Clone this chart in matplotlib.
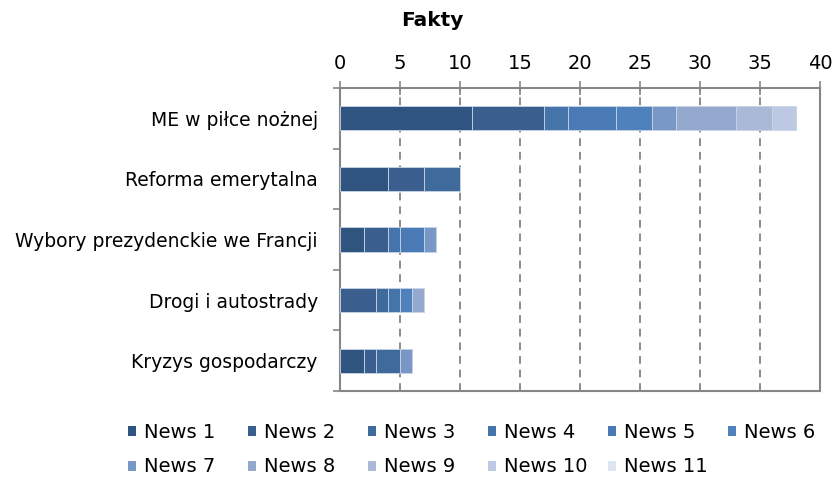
import matplotlib
matplotlib.use("Agg")
import matplotlib.pyplot as plt
import numpy as np
from matplotlib.ticker import MultipleLocator, FixedLocator

categories = ["ME w piłce nożnej", "Reforma emerytalna",
              "Wybory prezydenckie we Francji", "Drogi i autostrady",
              "Kryzys gospodarczy"]
series_names = ["News 1", "News 2", "News 3", "News 4", "News 5", "News 6",
                "News 7", "News 8", "News 9", "News 10", "News 11"]
# values per series, in category order
news1 = [11, 4, 2, 0, 2]
news2 = [6, 3, 2, 3, 1]
news3 = [0, 3, 0, 1, 2]
news4 = [2, 0, 1, 1, 0]
news5 = [4, 0, 2, 0, 0]
news6 = [3, 0, 0, 1, 0]
news7 = [2, 0, 1, 0, 1]
news8 = [5, 0, 0, 1, 0]
news9 = [3, 0, 0, 0, 0]
news10 = [2, 0, 0, 0, 0]
news11 = [0, 0, 0, 0, 0]
series = [news1, news2, news3, news4, news5, news6, news7, news8, news9,
          news10, news11]
colors = ["#2f5480", "#3a5f8f", "#3f6a9c", "#4574ab", "#4a7ab5", "#4f81bd",
          "#7896c6", "#95a9cf", "#aab9d8", "#bdc9e3", "#dce5f1"]

plt.rcParams['font.family'] = ['DejaVu Sans']
W, H = 838, 478
fig = plt.figure(figsize=(W/100, H/100), dpi=100)
ax = fig.add_axes([340/W, 1-391/H, 480/W, 303/H])

y = np.arange(len(categories))
left = np.zeros(len(categories))
handles = []
for name, vals, c in zip(series_names, series, colors):
    vals = np.array(vals, dtype=float)
    h = ax.barh(y, vals, left=left, height=0.4, color=c, edgecolor='#c8d4e6',
                linewidth=0.6, label=name, zorder=3)
    handles.append(h)
    left += vals

ax.set_xlim(0, 40)
ax.set_ylim(len(categories)-0.5, -0.5)
ax.xaxis.set_major_locator(MultipleLocator(5))
ax.xaxis.tick_top()
ax.tick_params(axis='x', which='major', direction='inout', length=10,
               width=1.2, color='#868686', labelsize=14, pad=6)
ax.set_yticks(y)
ax.set_yticklabels(categories)
ax.yaxis.set_minor_locator(FixedLocator(np.arange(-0.5, len(categories), 1)))
ax.tick_params(axis='y', which='major', length=0, labelsize=13.5, pad=16)
ax.tick_params(axis='y', which='minor', direction='out', length=5,
               width=1.2, color='#868686')
for s in ax.spines.values():
    s.set_color('#868686')
    s.set_linewidth(1.5)
ax.grid(axis='x', color='#8c8c8c', linestyle=(0, (4, 3)), linewidth=1.4,
        zorder=1)
ax.set_axisbelow(True)

fig.text(432/W, 1-21/H, "Fakty", ha='center', va='center',
         fontsize=14.5, fontweight='bold')

# legend: one entry per slot, laid out in a 6-column grid with equal spacing
for i, (h, name) in enumerate(zip(handles, series_names)):
    row, col = divmod(i, 6)
    lx = (128 + col*120) / W
    ly = 1 - (432 + row*35) / H
    lg = fig.legend([h], [name], loc='center left', bbox_to_anchor=(lx, ly),
                    frameon=False, fontsize=14, handlelength=0.42,
                    handleheight=0.42, handletextpad=0.38, borderpad=0,
                    borderaxespad=0)
    for p in lg.get_patches():
        p.set_edgecolor('none')

fig.savefig("out.png", dpi=100)
